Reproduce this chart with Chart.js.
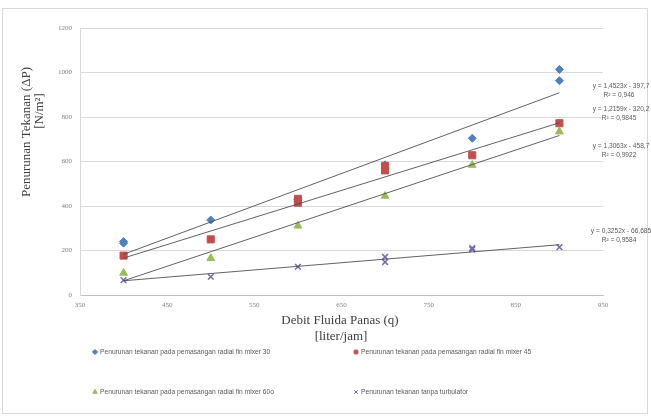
<!DOCTYPE html>
<html><head><meta charset="utf-8">
<script src="https://cdn.jsdelivr.net/npm/chart.js@4"></script>
<style>html,body{margin:0;padding:0;background:#fff;} canvas{display:block}</style>
</head><body>
<canvas id="c" width="651" height="417"></canvas>
<script>
// ---- data ----
const xTicks = [350,450,550,650,750,850,950];
const yTicks = [0,200,400,600,800,1000,1200];
const seriesLabels = [
  "Penurunan tekanan pada pemasangan radial fin mixer 30",
  "Penurunan tekanan pada pemasangan radial fin mixer 45",
  "Penurunan tekanan pada pemasangan radial fin mixer 60o",
  "Penurunan tekanan tanpa turbulator"
];
const x30 = [400,400,500,600,700,800,900,900];
const y30 = [240,233,337,430,585,704,1014,963];
const x45 = [400,500,600,600,700,700,800,900];
const y45 = [177,250,432,415,580,560,628,772];
const x60 = [400,500,600,700,800,900];
const y60 = [99,165,311,445,584,734];
const xNo = [400,500,600,700,700,800,800,900];
const yNo = [67,82,127,171,148,211,205,215];
const trendX = [400,900];
const trend30 = [183,909];
const trend45 = [166,774];
const trend60 = [64,717];
const trendNo = [64,226];
const eqTexts = ["y = 1,4523x - 397,7","y = 1,2159x - 320,2","y = 1,3063x - 458,7","y = 0,3252x - 66,685"];
const r2Texts = ["R² = 0,946","R² = 0,9845","R² = 0,9922","R² = 0,9584"];
const xTitle = ["Debit Fluida Panas (q)","[liter/jam]"];
const yTitle = ["Penurunan Tekanan (ΔP)","[N/m²]"];

const colors = ['#4f81bd','#c0504d','#9bbb59','#7468b0'];
const styles = ['rectRot','rect','triangle','crossRot'];
const radii = [4,5,4.5,4];

const pts = (xs, ys) => xs.map((x,i)=>({x:x, y:ys[i]}));
const pointSets = [pts(x30,y30), pts(x45,y45), pts(x60,y60), pts(xNo,yNo)];
const trendSets = [trend30,trend45,trend60,trendNo].map(t => pts(trendX,t));

const datasets = [];
trendSets.forEach((d,i)=>datasets.push({
  label:'trend'+i, data:d, showLine:true, pointRadius:0, borderColor:'rgba(70,70,70,0.85)',
  borderWidth:1, fill:false, order:0
}));
pointSets.forEach((d,i)=>datasets.push({
  label:seriesLabels[i], data:d, showLine:false, pointStyle:styles[i], pointRadius:radii[i],
  pointHoverRadius:radii[i], backgroundColor:colors[i], borderColor:colors[i],
  borderWidth: styles[i]==='crossRot'?1.5:1, order:4-i
}));

const deco = {
  id:'deco',
  beforeDraw(chart){
    const ctx = chart.ctx;
    ctx.save();
    ctx.fillStyle='#fff'; ctx.fillRect(0,0,chart.width,chart.height);
    ctx.strokeStyle='#d9d9d9'; ctx.lineWidth=1;
    ctx.strokeRect(2.5,8.5,645,405);
    ctx.restore();
  },
  afterDraw(chart){
    const ctx = chart.ctx;
    ctx.save();
    // axis titles
    ctx.fillStyle='#404040';
    ctx.font='13px "Liberation Serif"';
    ctx.textAlign='center'; ctx.textBaseline='middle';
    ctx.fillText(xTitle[0], 340, 321);
    ctx.fillText(xTitle[1], 341, 337);
    ctx.save(); ctx.translate(27,132); ctx.rotate(-Math.PI/2); ctx.fillText(yTitle[0],0,0); ctx.restore();
    ctx.save(); ctx.translate(40,111); ctx.rotate(-Math.PI/2); ctx.fillText(yTitle[1],0,0); ctx.restore();
    // trend equations
    ctx.font='6.6px "Liberation Sans"'; ctx.fillStyle='#595959';
    const eqY = [86,109,146,231];
    eqTexts.forEach((t,i)=>{ ctx.fillText(t, 621, eqY[i]); ctx.fillText(r2Texts[i], 619, eqY[i]+9); });
    // legend
    const lx = [95,356,95,356], ly=[352,352,392,392];
    ctx.textAlign='left';
    ctx.font='6.7px "Liberation Sans"';
    seriesLabels.forEach((t,i)=>{
      ctx.fillStyle=colors[i]; ctx.strokeStyle=colors[i]; ctx.lineWidth=1;
      Chart.helpers.drawPoint(ctx,{pointStyle:styles[i], radius:2.6, borderWidth:1, rotation:0}, lx[i], ly[i]);
      ctx.fillStyle='#595959';
      ctx.fillText(t, lx[i]+5, ly[i]);
    });
    ctx.restore();
  }
};

new Chart(document.getElementById('c'), {
  type:'scatter',
  data:{datasets},
  plugins:[deco],
  options:{
    responsive:false, animation:false,
    layout:{padding:{top:28,right:48,left:0,bottom:0}},
    plugins:{legend:{display:false}, tooltip:{enabled:false}},
    scales:{
      x:{type:'linear', min:350, max:950,
        afterBuildTicks:s=>{ s.ticks = xTicks.map(v=>({value:v})); },
        afterFit:s=>{ s.height = 122; },
        grid:{display:false, drawTicks:false},
        border:{display:true, color:'#bfbfbf'},
        ticks:{padding:6, color:'#7f7f7f', font:{family:'Liberation Serif', size:7}, callback:v=>String(v)}
      },
      y:{type:'linear', min:0, max:1200,
        afterBuildTicks:s=>{ s.ticks = yTicks.map(v=>({value:v})); },
        afterFit:s=>{ s.width = 80; },
        grid:{color:'#d9d9d9', drawTicks:false},
        border:{display:true, color:'#d9d9d9'},
        ticks:{padding:8, color:'#7f7f7f', font:{family:'Liberation Serif', size:7}, callback:v=>String(v)}
      }
    }
  }
});
</script>
</body></html>
